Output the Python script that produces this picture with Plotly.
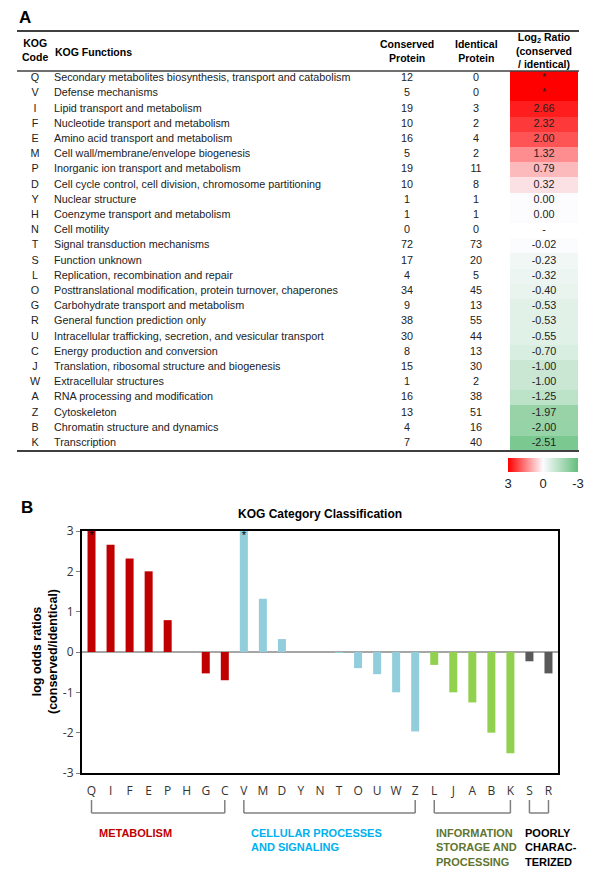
import math

import plotly.graph_objects as go

W, H = 600, 887
OFF = 8  # page body margin; layout coordinates below are page pixels
INF = math.inf

# ---- panel A: KOG table ----
kog_codes = ["Q", "V", "I", "F", "E", "M", "P", "D", "Y", "H", "N", "T", "S",
             "L", "O", "G", "R", "U", "C", "J", "W", "A", "Z", "B", "K"]
kog_functions = [
    "Secondary metabolites biosynthesis, transport and catabolism",
    "Defense mechanisms",
    "Lipid transport and metabolism",
    "Nucleotide transport and metabolism",
    "Amino acid transport and metabolism",
    "Cell wall/membrane/envelope biogenesis",
    "Inorganic ion transport and metabolism",
    "Cell cycle control, cell division, chromosome partitioning",
    "Nuclear structure",
    "Coenzyme transport and metabolism",
    "Cell motility",
    "Signal transduction mechanisms",
    "Function unknown",
    "Replication, recombination and repair",
    "Posttranslational modification, protein turnover, chaperones",
    "Carbohydrate transport and metabolism",
    "General function prediction only",
    "Intracellular trafficking, secretion, and vesicular transport",
    "Energy production and conversion",
    "Translation, ribosomal structure and biogenesis",
    "Extracellular structures",
    "RNA processing and modification",
    "Cytoskeleton",
    "Chromatin structure and dynamics",
    "Transcription",
]
conserved = [12, 5, 19, 10, 16, 5, 19, 10, 1, 1, 0, 72, 17, 4, 34, 9, 38, 30, 8, 15, 1, 16, 13, 4, 7]
identical = [0, 0, 3, 2, 4, 2, 11, 8, 1, 1, 0, 73, 20, 5, 45, 13, 55, 44, 13, 30, 2, 38, 51, 16, 40]
# INF = no identical proteins ("*"), None = no proteins at all ("-")
log2_ratio = [INF, INF, 2.66, 2.32, 2.00, 1.32, 0.79, 0.32, 0.00, 0.00, None, -0.02, -0.23,
              -0.32, -0.40, -0.53, -0.53, -0.55, -0.70, -1.00, -1.00, -1.25, -1.97, -2.00, -2.51]

# ---- panel B: bar order by KOG class ----
class_names = ["METABOLISM", "CELLULAR PROCESSES<br>AND SIGNALING",
               "INFORMATION<br>STORAGE AND<br>PROCESSING", "POORLY<br>CHARAC-<br>TERIZED"]
class_codes = [
    ["Q", "I", "F", "E", "P", "H", "G", "C"],
    ["V", "M", "D", "Y", "N", "T", "O", "U", "W", "Z"],
    ["L", "J", "A", "B", "K"],
    ["S", "R"],
]
bar_colors = ["#C00000", "#92CDDC", "#92D050", "#595959"]
label_colors = ["#C00000", "#00B0F0", "#5F7530", "#000000"]
label_shift = [5, 5, 0, -6]
y_ticks = [-3, -2, -1, 0, 1, 2, 3]
CAP = 3

FW, FH = W - OFF, H - OFF


def px(x):
    return (x - OFF) / FW


def py(y):
    return 1 - (y - OFF) / FH


def fmt(v):
    if v is None:
        return "-"
    if v == INF:
        return "*"
    return f"{v:.2f}"


TXT = "#222222"
ARIAL = "Liberation Sans, Arial, sans-serif"

fig = go.Figure()

# colored log2 column; colorbar runs 3 -> -3 left to right, so plot the negated ratio
cell_z = [[None if v is None else -min(v, CAP)] for v in log2_ratio]
fig.add_trace(go.Heatmap(
    x=[510, 578], y=kog_codes, z=cell_z, xaxis="x2", yaxis="y2",
    zmin=-3, zmax=3,
    colorscale=[[0, "#FF0000"], [0.5, "#FCFCFF"], [1, "#63BE7B"]],
    colorbar=dict(
        orientation="h", x=px(543), xanchor="center", y=py(458), yanchor="top",
        len=70, lenmode="pixels", thickness=14, thicknessmode="pixels",
        outlinewidth=0, xpad=0, ypad=0, ticks="",
        tickvals=[-3, 0, 3], ticktext=["3", "0", "-3"],
        tickfont=dict(family=ARIAL, size=13, color=TXT),
    ),
    hoverinfo="skip",
))

text_font = dict(family=ARIAL, size=10.8, color=TXT)
for xpos, texts, pos in [
    (35, kog_codes, "middle center"),
    (54, kog_functions, "middle right"),
    (407, [str(v) for v in conserved], "middle center"),
    (476, [str(v) for v in identical], "middle center"),
    (544, [fmt(v) for v in log2_ratio], "middle center"),
]:
    fig.add_trace(go.Scatter(
        x=[xpos] * len(kog_codes), y=kog_codes, text=texts, mode="text",
        textposition=pos, textfont=text_font, xaxis="x2", yaxis="y2",
        showlegend=False, hoverinfo="skip",
    ))

# ---- bars ----
for codes, color in zip(class_codes, bar_colors):
    vals = []
    for c in codes:
        v = log2_ratio[kog_codes.index(c)]
        vals.append(None if v is None else min(v, CAP))
    fig.add_trace(go.Bar(x=codes, y=vals, marker=dict(color=color, line_width=0),
                         width=0.42, showlegend=False))

capped = [c for group in class_codes for c in group if log2_ratio[kog_codes.index(c)] == INF]
fig.add_trace(go.Scatter(
    x=capped, y=[CAP] * len(capped), text=["*"] * len(capped), mode="text",
    textposition="bottom center", textfont=dict(family=ARIAL, size=11, color="black"),
    showlegend=False, hoverinfo="skip",
))

all_codes = [c for group in class_codes for c in group]

# ---- table rules and class brackets ----
shapes = []
for y, w in [(31, 2), (71, 1.5), (451, 2)]:
    shapes.append(dict(type="line", xref="paper", yref="paper", x0=px(17), x1=px(579),
                       y0=py(y), y1=py(y), line=dict(color="#404040", width=w)))

for codes in class_codes:
    for x0, x1, y0, y1 in [(codes[0], codes[0], py(800), py(813)),
                           (codes[-1], codes[-1], py(800), py(813)),
                           (codes[0], codes[-1], py(813), py(813))]:
        shapes.append(dict(type="line", xref="x", yref="paper", x0=x0, x1=x1, y0=y0, y1=y1,
                           line=dict(color="#808080", width=1.5)))

hdr_font = dict(family=ARIAL, size=10.5, color="black")
annotations = [
    dict(text="<b>A</b>", x=px(17), y=py(18), xanchor="left", font=dict(family=ARIAL, size=17, color="black")),
    dict(text="<b>B</b>", x=px(19), y=py(507), xanchor="left", font=dict(family=ARIAL, size=17, color="black")),
    dict(text="<b>KOG<br>Code</b>", x=px(35), y=py(50), font=hdr_font),
    dict(text="<b>KOG Functions</b>", x=px(53), y=py(52), xanchor="left", font=hdr_font),
    dict(text="<b>Conserved<br>Protein</b>", x=px(407), y=py(51), font=hdr_font),
    dict(text="<b>Identical<br>Protein</b>", x=px(476), y=py(51), font=hdr_font),
    dict(text="<b>Log<sub>2</sub> Ratio<br>(conserved<br>/ identical)</b>", x=px(544), y=py(51),
         font=hdr_font),
    dict(text="<b>KOG Category Classification</b>", x=px(320), y=py(514),
         font=dict(family=ARIAL, size=12, color="black")),
    dict(text="<b>log odds ratios<br>(conserved/identical)</b>", x=px(45), y=py(652), textangle=-90,
         font=dict(family=ARIAL, size=12.5, color="black")),
]
for name, codes, color, shift in zip(class_names, class_codes, label_colors, label_shift):
    annotations.append(dict(text=f"<b>{name}</b>", x=codes[0], xref="x", xshift=shift, y=py(825),
                            xanchor="left", yanchor="top", align="left",
                            font=dict(family=ARIAL, size=11, color=color)))
for a in annotations:
    a.setdefault("xref", "paper")
    a.setdefault("yref", "paper")
    a.setdefault("xanchor", "center")
    a.setdefault("yanchor", "middle")
    a.setdefault("showarrow", False)

fig.update_layout(
    width=FW, height=FH, margin=dict(l=0, r=0, t=0, b=0, autoexpand=False),
    paper_bgcolor="white", plot_bgcolor="white",
    xaxis=dict(domain=[px(82), px(558)], categoryorder="array", categoryarray=all_codes,
               range=[-0.5, len(all_codes) - 0.5], automargin=False,
               showline=True, linecolor="black", linewidth=2, mirror=True, ticks="",
               ticklabelstandoff=6,
               tickfont=dict(family="Open Sans, sans-serif", size=12, color="#333333"),
               showgrid=False, zeroline=False, fixedrange=True),
    yaxis=dict(domain=[py(773), py(531)], range=[-3, 3], automargin=False,
               tickvals=y_ticks, ticktext=[str(v) for v in y_ticks],
               showline=True, linecolor="black", linewidth=2, mirror=True,
               ticks="outside", ticklen=4, tickcolor="#808080",
               tickfont=dict(family="Open Sans, sans-serif", size=12, color="#333333"),
               showgrid=False, zeroline=True, zerolinecolor="#A6A6A6", zerolinewidth=2),
    xaxis2=dict(domain=[0, 1], range=[OFF, W], anchor="y2", visible=False, fixedrange=True),
    yaxis2=dict(domain=[py(451), py(71)], anchor="x2", range=[len(kog_codes) - 0.5, -0.5],
                categoryorder="array", categoryarray=kog_codes, visible=False, fixedrange=True),
    shapes=shapes,
    annotations=annotations,
)

fig.write_html("out.html")
